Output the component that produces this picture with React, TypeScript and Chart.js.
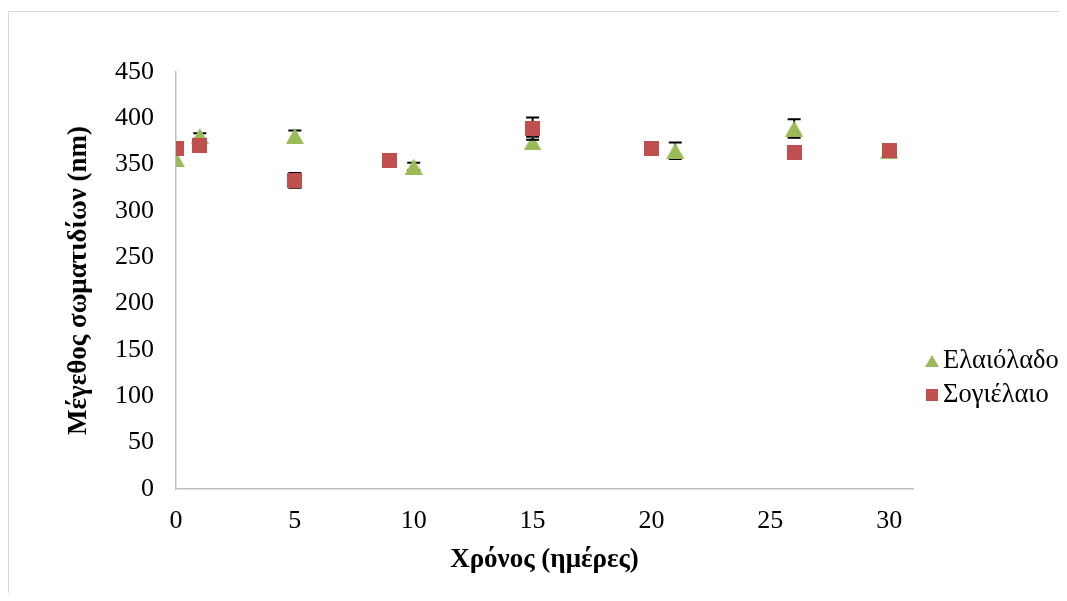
import React, { useEffect, useRef } from "react";
import { Chart, registerables } from "chart.js";

Chart.register(...registerables);

// ---- data ----
const seriesNames = ["Ελαιόλαδο", "Σογιέλαιο"];
const seriesColors = ["#9BBB59", "#C0504D"];
const oliveDays = [0, 1, 5, 10, 15, 21, 26, 30];
const oliveSize = [356, 381, 381, 348, 374, 365, 389, 365];
const oliveErr = [0, 3, 6, 4, 6, 9, 10, 1];
const soyDays = [0, 1, 5, 9, 15, 20, 26, 30];
const soySize = [367, 371, 333, 355, 389, 367, 363, 365];
const soyErr = [0, 0, 8, 0, 12, 0, 0, 0];
const xTicks = [0, 5, 10, 15, 20, 25, 30];
const yTicks = [0, 50, 100, 150, 200, 250, 300, 350, 400, 450];
const xTitle = "Χρόνος (ημέρες)";
const yTitle = "Μέγεθος σωματιδίων (nm)";

const FONT = "'Liberation Serif', 'Times New Roman', serif";

function makeTriangle(w: number, h: number, color: string) {
  const c = document.createElement("canvas");
  c.width = w;
  c.height = h;
  const ctx = c.getContext("2d")!;
  ctx.fillStyle = color;
  ctx.beginPath();
  ctx.moveTo(w / 2, 0);
  ctx.lineTo(w, h);
  ctx.lineTo(0, h);
  ctx.closePath();
  ctx.fill();
  return c;
}

function makeSquare(s: number, color: string) {
  const c = document.createElement("canvas");
  c.width = s;
  c.height = s;
  const ctx = c.getContext("2d")!;
  ctx.fillStyle = color;
  ctx.fillRect(0, 0, s, s);
  return c;
}

const errorBarPlugin = {
  id: "errorBars",
  beforeDatasetDraw(chart: any, args: any) {
    const ds = chart.data.datasets[args.index];
    const errs: number[] = ds.errors || [];
    const meta = args.meta;
    const ys = chart.scales.y;
    const ctx = chart.ctx;
    ctx.save();
    ctx.strokeStyle = "#000";
    ctx.lineWidth = 2;
    meta.data.forEach((pt: any, i: number) => {
      const e = errs[i];
      if (!e) return;
      const v = ds.data[i].y;
      const yt = ys.getPixelForValue(v + e);
      const yb = ys.getPixelForValue(v - e);
      ctx.beginPath();
      ctx.moveTo(pt.x, yt);
      ctx.lineTo(pt.x, yb);
      ctx.moveTo(pt.x - 6.5, yt);
      ctx.lineTo(pt.x + 6.5, yt);
      ctx.moveTo(pt.x - 6.5, yb);
      ctx.lineTo(pt.x + 6.5, yb);
      ctx.stroke();
    });
    ctx.restore();
  },
};

const legendPlugin = {
  id: "customLegend",
  afterDraw(chart: any, _args: any, opts: any) {
    const ctx = chart.ctx;
    ctx.save();
    ctx.font = `${opts.fontSize}px ${FONT}`;
    ctx.fillStyle = "#000";
    ctx.textBaseline = "middle";
    ctx.textAlign = "left";
    opts.items.forEach((it: any, i: number) => {
      const y = opts.y + i * opts.gap;
      const img = it.marker;
      ctx.drawImage(img, opts.x - img.width / 2, y - img.height / 2);
      ctx.fillText(it.label, opts.x + opts.textGap, y);
    });
    ctx.restore();
  },
};

export default function App() {
  const ref = useRef<HTMLCanvasElement>(null);

  useEffect(() => {
    if (!ref.current) return;
    const tri = makeTriangle(18, 16, seriesColors[0]);
    const sq = makeSquare(15, seriesColors[1]);
    const triL = makeTriangle(14, 12, seriesColors[0]);
    const sqL = makeSquare(12, seriesColors[1]);

    const chart = new Chart(ref.current, {
      type: "scatter",
      data: {
        datasets: [
          {
            label: seriesNames[0],
            data: oliveDays.map((d, i) => ({ x: d, y: oliveSize[i] })),
            errors: oliveErr,
            pointStyle: tri,
            backgroundColor: seriesColors[0],
            borderColor: seriesColors[0],
            order: 1,
          } as any,
          {
            label: seriesNames[1],
            data: soyDays.map((d, i) => ({ x: d, y: soySize[i] })),
            errors: soyErr,
            pointStyle: sq,
            backgroundColor: seriesColors[1],
            borderColor: seriesColors[1],
            order: 0,
          } as any,
        ],
      },
      options: {
        animation: false,
        responsive: false,
        events: [],
        layout: { padding: { left: 0, right: 146, top: 64, bottom: 0 } },
        plugins: {
          legend: { display: false },
          tooltip: { enabled: false },
          customLegend: {
            x: 924,
            y: 353,
            gap: 34,
            textGap: 11,
            fontSize: 26.5,
            items: [
              { label: seriesNames[0], marker: triL },
              { label: seriesNames[1], marker: sqL },
            ],
          },
        } as any,
        scales: {
          x: {
            type: "linear",
            min: 0,
            max: 31,
            afterBuildTicks: (s: any) => {
              s.ticks = xTicks.map((v) => ({ value: v }));
            },
            afterFit: (s: any) => {
              s.height = 104;
            },
            grid: { display: false, drawTicks: false },
            border: { display: true, color: "#BFBFBF", width: 1.5 },
            ticks: {
              padding: 17,
              color: "#000",
              font: { family: FONT, size: 26 },
              maxRotation: 0,
            },
            title: {
              display: true,
              text: xTitle,
              color: "#000",
              font: { family: FONT, size: 27, weight: "bold" },
              padding: { top: 0, bottom: 17 },
            },
          },
          y: {
            type: "linear",
            min: 0,
            max: 450,
            afterBuildTicks: (s: any) => {
              s.ticks = yTicks.map((v) => ({ value: v }));
            },
            afterFit: (s: any) => {
              s.width = 168;
            },
            grid: { display: false, drawTicks: false },
            border: { display: true, color: "#BFBFBF", width: 1.5 },
            ticks: {
              padding: 22,
              color: "#000",
              font: { family: FONT, size: 26 },
            },
            title: {
              display: true,
              text: yTitle,
              color: "#000",
              font: { family: FONT, size: 27, weight: "bold" },
              padding: { top: 55, bottom: 0 },
            },
          },
        },
      },
      plugins: [errorBarPlugin, legendPlugin],
    } as any);
    return () => chart.destroy();
  }, []);

  return (
    <div style={{ position: "relative", width: 1051, height: 585 }}>
      <div
        style={{
          position: "absolute",
          left: 0,
          top: 3,
          width: 1051,
          height: 582,
          borderTop: "1px solid #D9D9D9",
          borderLeft: "1px solid #D9D9D9",
          boxSizing: "border-box",
          pointerEvents: "none",
        }}
      />
      <canvas ref={ref} width={1051} height={585} style={{ position: "absolute", left: 0, top: 0 }} />
    </div>
  );
}
